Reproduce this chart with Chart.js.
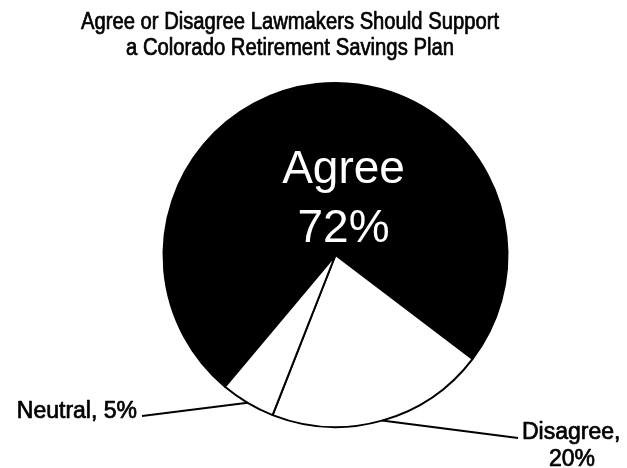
<!DOCTYPE html>
<html>
<head>
<meta charset="utf-8">
<script src="https://cdn.jsdelivr.net/npm/chart.js@4/dist/chart.umd.min.js"></script>
<style>
  html, body { margin: 0; padding: 0; background: #fff; }
  #wrap { width: 627px; height: 468px; }
</style>
</head>
<body>
<div id="wrap"><canvas id="pie" width="627" height="468"></canvas></div>
<script>
const titleLines = ["Agree or Disagree Lawmakers Should Support", "a Colorado Retirement Savings Plan"];
const categories = ["Agree", "Disagree", "Neutral"];
const shares = [72, 20, 5];

const FONT = '"Liberation Sans", Arial, sans-serif';

// dark text gets a hairline stroke so it reads a little heavier
function heavyText(ctx, text, x, y, maxWidth) {
  ctx.fillText(text, x, y, maxWidth);
  ctx.strokeText(text, x, y, maxWidth);
}

// title, the big label inside the black slice, and the two leader labels
const pieLabels = {
  id: "pieLabels",
  afterDraw(chart) {
    const ctx = chart.ctx;
    const arcs = chart.getDatasetMeta(0).data;
    const c = arcs[0];
    ctx.save();
    ctx.fillStyle = "#000";
    ctx.strokeStyle = "#000";
    ctx.lineWidth = 0.7;
    ctx.lineJoin = "round";
    ctx.textAlign = "center";
    ctx.textBaseline = "alphabetic";
    ctx.font = "23px " + FONT;
    heavyText(ctx, titleLines[0], 290, 29, 418);
    heavyText(ctx, titleLines[1], 290, 55, 328);

    // Agree
    ctx.fillStyle = "#fff";
    ctx.font = "46px " + FONT;
    ctx.fillText(categories[0], c.x + 8, c.y - 72);
    ctx.fillText(shares[0] + "%", c.x + 8, c.y - 13);

    // leader lines start on the rim at each slice's middle angle
    function rim(el) {
      const a = (el.startAngle + el.endAngle) / 2;
      return [el.x + Math.cos(a) * el.outerRadius, el.y + Math.sin(a) * el.outerRadius];
    }
    ctx.lineWidth = 2;

    const n = rim(arcs[2]);
    ctx.beginPath();
    ctx.moveTo(n[0], n[1]);
    ctx.lineTo(142, 416);
    ctx.stroke();

    const d = rim(arcs[1]);
    ctx.beginPath();
    ctx.moveTo(d[0], d[1]);
    ctx.lineTo(518, 438);
    ctx.stroke();

    ctx.fillStyle = "#000";
    ctx.lineWidth = 0.7;
    ctx.font = "23px " + FONT;
    ctx.textAlign = "right";
    heavyText(ctx, categories[2] + ", " + shares[2] + "%", 137, 418);
    ctx.textAlign = "left";
    heavyText(ctx, categories[1] + ",", 522, 439);
    ctx.textAlign = "center";
    heavyText(ctx, shares[1] + "%", 572, 466);
    ctx.restore();
  }
};

new Chart(document.getElementById("pie"), {
  type: "pie",
  data: {
    labels: categories,
    datasets: [{
      data: shares,
      backgroundColor: ["#000", "#fff", "#fff"],
      borderColor: "#000",
      borderWidth: 2
    }]
  },
  options: {
    responsive: false,
    animation: false,
    rotation: 220,
    layout: { padding: { top: 82, bottom: 40, left: 162.5, right: 118.5 } },
    plugins: {
      legend: { display: false },
      tooltip: { enabled: false },
      title: { display: false }
    }
  },
  plugins: [pieLabels]
});
</script>
</body>
</html>
